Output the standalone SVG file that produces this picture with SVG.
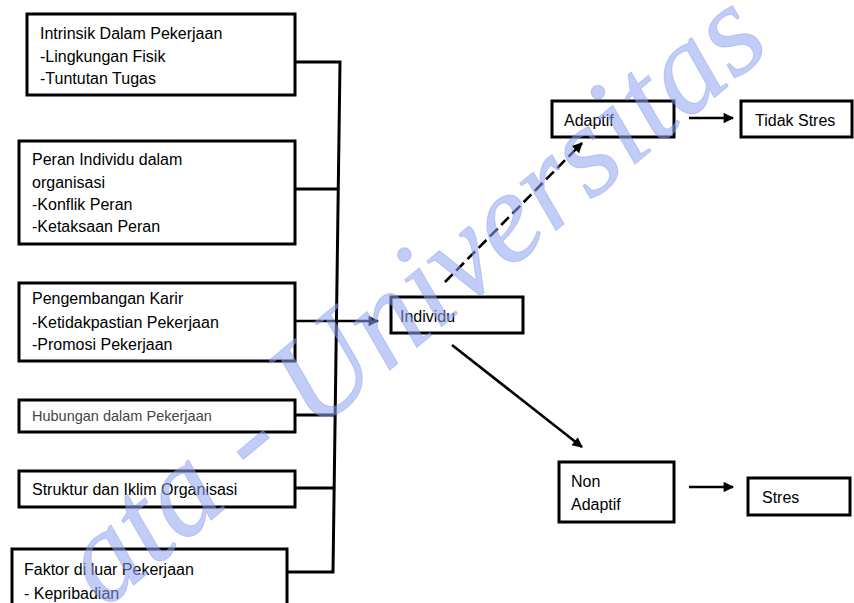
<svg xmlns="http://www.w3.org/2000/svg" width="854" height="603" viewBox="0 0 854 603">
<style>
.box{fill:#fff;stroke:#000;stroke-width:3}
.t{font-family:"Liberation Sans",Arial,sans-serif;font-size:16px;fill:#000}
.ts{font-family:"Liberation Sans",Arial,sans-serif;font-size:14.5px;fill:#444}
.c{fill:none;stroke:#000;stroke-width:3}
.a{fill:none;stroke:#000;stroke-width:2.6}
.wm{font-family:"Liberation Serif","Times New Roman",serif;font-style:italic;font-size:130px;fill:#8ea2f0;fill-opacity:0.55;stroke:#7a90ea;stroke-opacity:0.35;stroke-width:1}
</style>
<defs>
<marker id="ah" viewBox="0 0 10 10" refX="9" refY="5" markerWidth="4.4" markerHeight="4" orient="auto" markerUnits="strokeWidth">
<path d="M0,0 L10,5 L0,10 z" fill="#000"/>
</marker>
</defs>
<rect width="854" height="603" fill="#fff"/>

<g id="connectors">
<path class="c" d="M295,62 H340 L333,572 H287"/>
<path class="c" d="M295,189 H338"/>
<path class="c" d="M295,415 H335"/>
<path class="c" d="M295,488 H334"/>
<path class="a" d="M295,321 H378" marker-end="url(#ah)"/>
<path class="a" d="M445,282 L582,143" stroke-dasharray="11 5" marker-end="url(#ah)"/>
<path class="a" d="M452,345 L582,447" marker-end="url(#ah)"/>
<path class="a" d="M689,118 H733" marker-end="url(#ah)"/>
<path class="a" d="M689,487 H733" marker-end="url(#ah)"/>
</g>

<g id="n-intrinsik">
<rect class="box" x="27" y="14" width="268" height="81"/>
<text class="t" x="40" y="39">Intrinsik Dalam Pekerjaan</text>
<text class="t" x="40" y="62">-Lingkungan Fisik</text>
<text class="t" x="40" y="84">-Tuntutan Tugas</text>
</g>
<g id="n-peran">
<rect class="box" x="19" y="141" width="276" height="103"/>
<text class="t" x="32" y="165">Peran Individu dalam</text>
<text class="t" x="32" y="188">organisasi</text>
<text class="t" x="32" y="210">-Konflik Peran</text>
<text class="t" x="32" y="232">-Ketaksaan Peran</text>
</g>
<g id="n-karir">
<rect class="box" x="19" y="283" width="276" height="78"/>
<text class="t" x="32" y="304">Pengembangan Karir</text>
<text class="t" x="32" y="328">-Ketidakpastian Pekerjaan</text>
<text class="t" x="32" y="350">-Promosi Pekerjaan</text>
</g>
<g id="n-hubungan">
<rect class="box" x="19" y="400" width="276" height="32"/>
<text class="ts" x="32" y="421">Hubungan dalam Pekerjaan</text>
</g>
<g id="n-struktur">
<rect class="box" x="19" y="471" width="276" height="36"/>
<text class="t" x="32" y="495">Struktur dan Iklim Organisasi</text>
</g>
<g id="n-faktor">
<rect class="box" x="12" y="549" width="275" height="70"/>
<text class="t" x="24" y="575">Faktor di luar Pekerjaan</text>
<text class="t" x="24" y="599">- Kepribadian</text>
</g>
<g id="n-individu">
<rect class="box" x="391" y="297" width="132" height="36"/>
<text class="t" x="400" y="322">Individu</text>
</g>
<g id="n-adaptif">
<rect class="box" x="552" y="101" width="122" height="36"/>
<text class="t" x="564" y="126">Adaptif</text>
</g>
<g id="n-tidakstres">
<rect class="box" x="741" y="101" width="111" height="36"/>
<text class="t" x="755" y="126">Tidak Stres</text>
</g>
<g id="n-nonadaptif">
<rect class="box" x="559" y="462" width="115" height="60"/>
<text class="t" x="571" y="487">Non</text>
<text class="t" x="571" y="510">Adaptif</text>
</g>
<g id="n-stres">
<rect class="box" x="748" y="478" width="102" height="37"/>
<text class="t" x="762" y="503">Stres</text>
</g>

<text class="wm" transform="translate(104,610) rotate(-40)">ata - Universitas</text>
</svg>
